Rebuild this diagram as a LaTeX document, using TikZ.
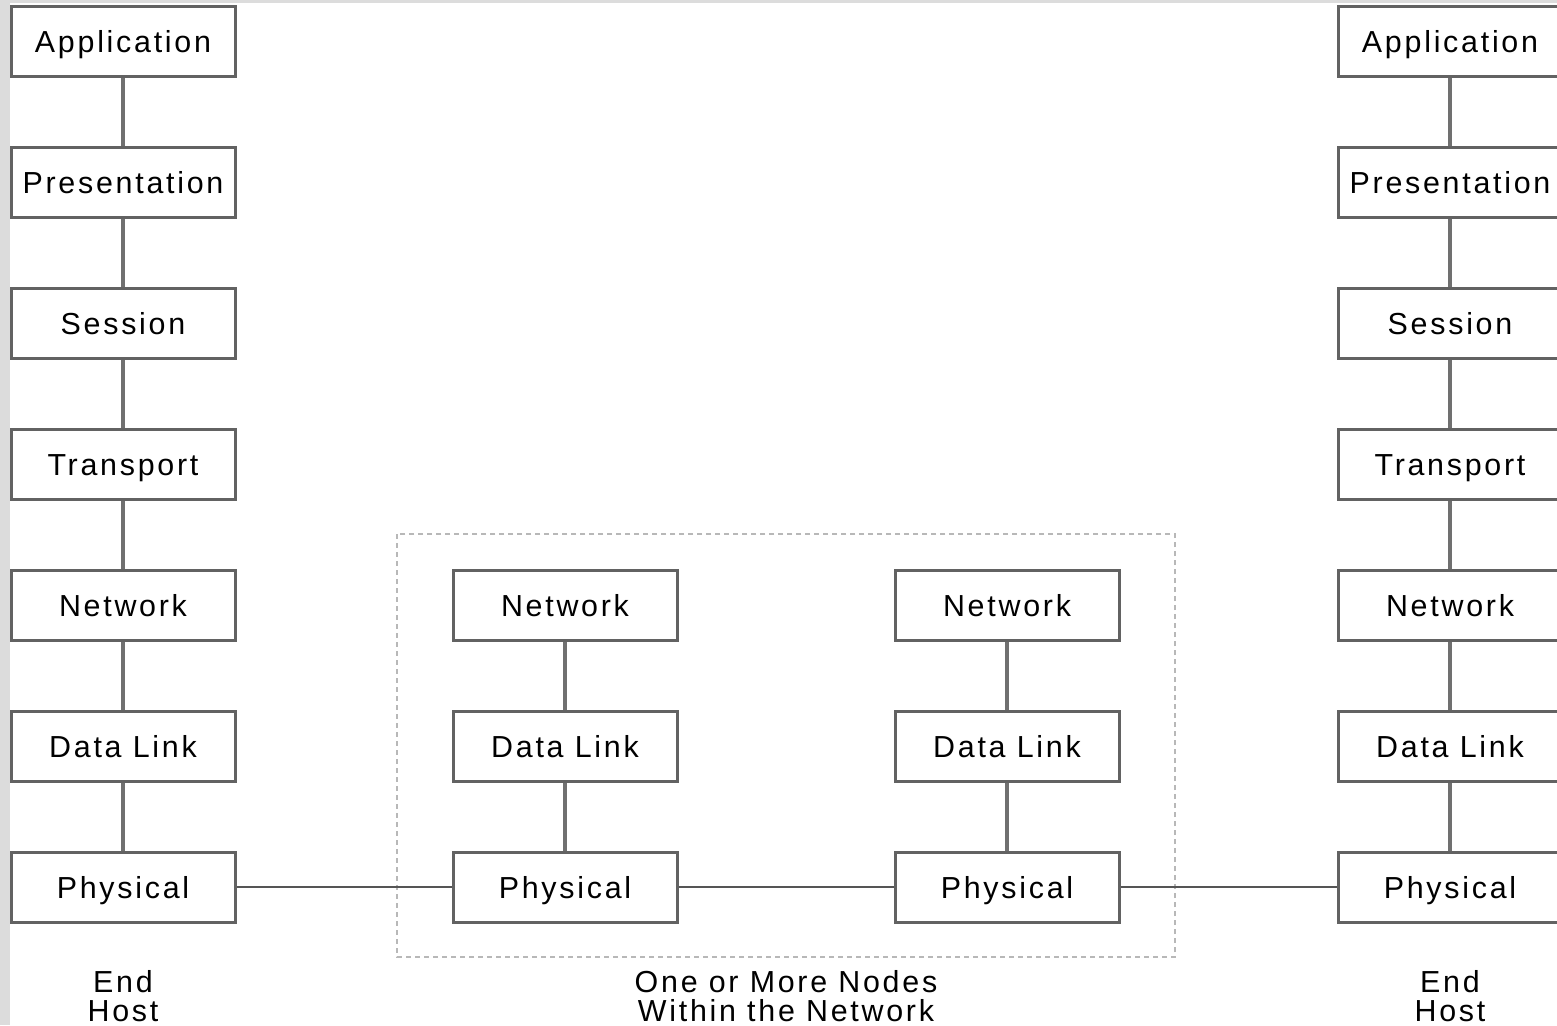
\documentclass[tikz,border=0pt]{standalone}
\usepackage{fontspec}
\setmainfont{Liberation Sans}[LetterSpace=9]
\definecolor{boxline}{HTML}{626262}
\definecolor{stackline}{HTML}{707070}
\definecolor{linkline}{HTML}{555555}
\definecolor{frameline}{HTML}{B8B8B8}
\definecolor{edgegray}{HTML}{DCDCDC}
\tikzset{
  layer/.style={draw=boxline, line width=1.5pt, fill=white, rectangle,
    minimum width=112pt, minimum height=35pt, inner sep=0pt,
    text height=11.7pt, text depth=0pt,
    font=\fontsize{15.2}{15}\selectfont},
  stackconn/.style={draw=stackline, line width=1.75pt},
  linkconn/.style={draw=linkline, line width=1.1pt},
  caption/.style={align=center, font=\fontsize{15.2}{14.5}\selectfont, inner sep=0pt},
  netframe/.style={draw=frameline, line width=1.3pt, dash pattern=on 2.5pt off 2pt}
}
\begin{document}
\begin{tikzpicture}[x=0.5pt,y=-0.5pt]
  \useasboundingbox (0,0) rectangle (1557,1025);
  \clip (0,0) rectangle (1557,1025);
  \fill[white] (0,0) rectangle (1557,1025);
  % grey page edges
  \fill[edgegray] (0,0) rectangle (10,1025);
  \fill[edgegray] (0,0) rectangle (1557,3);

  % dotted frame around the intermediate nodes
  \draw[netframe] (397,534) rectangle (1175,957);

  % end hosts: full stacks
  \foreach \name/\txt/\yy in {a/Application/41, p/Presentation/182, s/Session/323,
      t/Transport/464, n/Network/605, d/Data Link/746, h/Physical/887}{
    \node[layer] (L\name) at (123,\yy) {\txt};
    \node[layer] (R\name) at (1450,\yy) {\txt};
  }
  % intermediate nodes: lower three layers
  \foreach \name/\txt/\yy in {n/Network/605, d/Data Link/746, h/Physical/887}{
    \node[layer] (M\name) at (565,\yy) {\txt};
    \node[layer] (N\name) at (1007,\yy) {\txt};
  }

  % vertical links inside each stack
  \foreach \s in {L,R}{
    \draw[stackconn] (\s a) -- (\s p);
    \draw[stackconn] (\s p) -- (\s s);
    \draw[stackconn] (\s s) -- (\s t);
    \draw[stackconn] (\s t) -- (\s n);
    \draw[stackconn] (\s n) -- (\s d);
    \draw[stackconn] (\s d) -- (\s h);
  }
  \foreach \s in {M,N}{
    \draw[stackconn] (\s n) -- (\s d);
    \draw[stackconn] (\s d) -- (\s h);
  }

  % physical links
  \draw[linkconn] (Lh) -- (Mh);
  \draw[linkconn] (Mh) -- (Nh);
  \draw[linkconn] (Nh) -- (Rh);

  % captions
  \node[caption] (capL) at (123,996) {End\\Host};
  \node[caption] (capM) at (786,996) {One or More Nodes\\Within the Network};
  \node[caption] (capR) at (1450,996) {End\\Host};
\end{tikzpicture}
\end{document}
